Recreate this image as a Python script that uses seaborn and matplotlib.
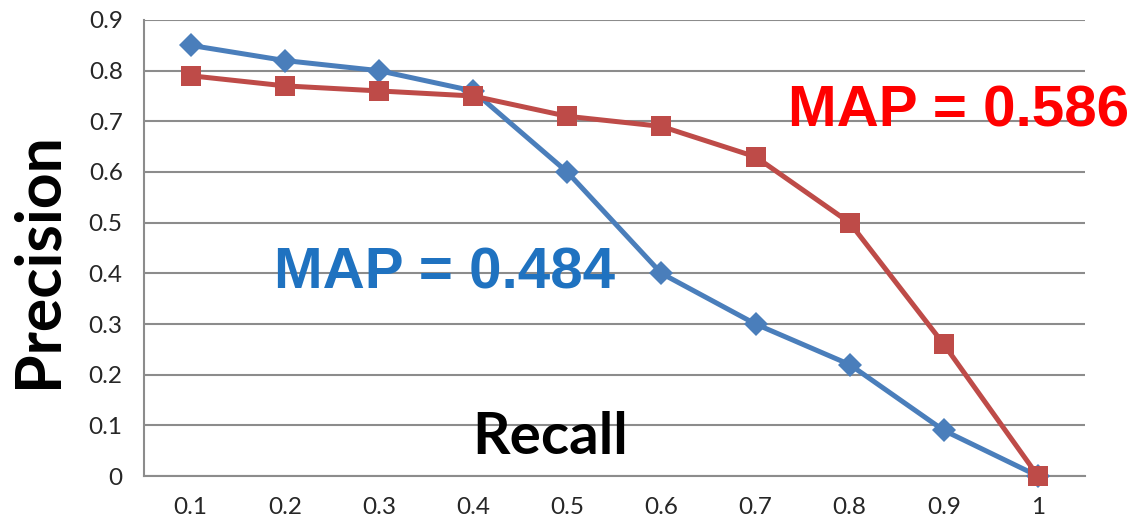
import matplotlib
matplotlib.use("Agg")
import matplotlib.pyplot as plt
from matplotlib.ticker import FixedLocator
import numpy as np
import pandas as pd
import seaborn as sns

recall = ["0.1", "0.2", "0.3", "0.4", "0.5", "0.6", "0.7", "0.8", "0.9", "1"]
precision_a = [0.85, 0.82, 0.80, 0.76, 0.60, 0.40, 0.30, 0.22, 0.09, 0.00]
precision_b = [0.79, 0.77, 0.76, 0.75, 0.71, 0.69, 0.63, 0.50, 0.26, 0.00]
map_a = "MAP = 0.484"
map_b = "MAP = 0.586"

sns.set_style("white")
plt.rcParams["font.family"] = ["Lato", "DejaVu Sans"]

pos = np.arange(len(recall))
df = pd.DataFrame({
    "pos": np.concatenate([pos, pos]),
    "precision": precision_a + precision_b,
    "method": ["A"] * len(recall) + ["B"] * len(recall),
})

fig = plt.figure(figsize=(11.32, 5.22), dpi=100)
ax = fig.add_axes([0.1268, 0.0881, 0.9585 - 0.1268, 0.9617 - 0.0881])

ax.yaxis.grid(True, color="#8c8c8c", linewidth=1.5)
ax.set_axisbelow(True)

sns.lineplot(data=df[df.method == "A"], x="pos", y="precision", ax=ax,
             color="#4a7ebb", linewidth=3.6, marker="D", markersize=12,
             markeredgewidth=0, legend=False, clip_on=False, zorder=3)
sns.lineplot(data=df[df.method == "B"], x="pos", y="precision", ax=ax,
             color="#be4b48", linewidth=3.6, marker="s", markersize=14,
             markeredgewidth=0, legend=False, clip_on=False, zorder=4)

ax.set_xlim(-0.5, len(recall) - 0.5)
ax.set_ylim(0, 0.9)
ax.set_yticks(np.round(np.arange(0, 0.91, 0.1), 1))
ax.set_yticklabels(["0"] + [f"{v:.1f}" for v in np.arange(0.1, 0.91, 0.1)])
ax.set_xticks(pos)
ax.set_xticklabels(recall)
ax.xaxis.set_minor_locator(FixedLocator(np.arange(-0.5, len(recall), 1.0)))
ax.tick_params(axis="x", which="major", length=0, pad=15, labelsize=17.5)
ax.tick_params(axis="x", which="minor", length=6, width=1.5, color="#8c8c8c", direction="out")
ax.tick_params(axis="y", which="major", length=8, width=1.5, color="#8c8c8c",
               direction="out", pad=7, labelsize=17.5)
ax.set_xlabel("")
ax.set_ylabel("")

for side in ["top", "right"]:
    ax.spines[side].set_visible(False)
for side in ["left", "bottom"]:
    ax.spines[side].set_color("#8c8c8c")
    ax.spines[side].set_linewidth(1.5)

fig.text(0.034, 0.502, "Precision", rotation=90, ha="center", va="center",
         fontsize=45, fontweight="bold", color="black")
fig.text(0.486, 0.161, "Recall", ha="center", va="center",
         fontsize=42, fontweight="bold", color="black")
fig.text(0.393, 0.477, map_a, ha="center", va="center", fontsize=42,
         fontweight="bold", color="#1f72c0", family=["Liberation Sans", "DejaVu Sans"])
fig.text(0.847, 0.787, map_b, ha="center", va="center", fontsize=42,
         fontweight="bold", color="#ff0000", family=["Liberation Sans", "DejaVu Sans"])

fig.savefig("out.png", dpi=100)
